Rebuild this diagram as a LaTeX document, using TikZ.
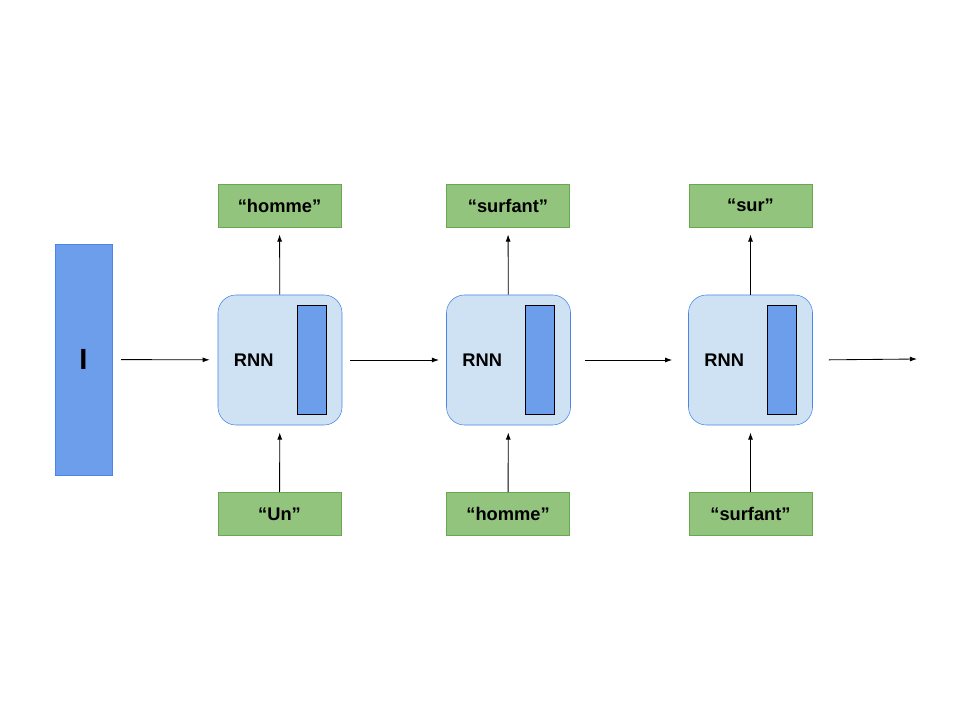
\documentclass[tikz,border=0pt]{standalone}
\usepackage{fontspec}
\setmainfont{Liberation Sans}
\usepackage{tikz}
\usetikzlibrary{arrows.meta,positioning,calc}
\definecolor{BarBlue}{HTML}{6D9EEB}
\definecolor{EdgeBlue}{HTML}{4A86E8}
\definecolor{CellBG}{HTML}{CFE2F3}
\definecolor{WordGreen}{HTML}{93C47D}
\definecolor{WordEdge}{HTML}{6AA84F}

\begin{document}
\begin{tikzpicture}[x=0.025cm,y=-0.025cm,
  cell/.style={draw=EdgeBlue,fill=CellBG,rounded corners=0.45cm,minimum width=3.1cm,minimum height=3.25cm},
  state/.style={draw=black,fill=BarBlue,minimum width=0.725cm,minimum height=2.725cm,inner sep=0pt},
  word/.style={draw=WordEdge,fill=WordGreen,minimum width=3.075cm,minimum height=1.075cm,font=\bfseries\fontsize{13}{15}\selectfont},
  link/.style={-{Latex[length=5pt,width=3.5pt]},line width=0.6pt}]
  \useasboundingbox (0,0) rectangle (960,720);
  % image vector
  \node[draw=EdgeBlue,fill=BarBlue,minimum width=1.425cm,minimum height=5.775cm,font=\bfseries\huge] (img) at (83.5,359.5) {I};
  % the three cells
  \node[cell] (rnn1) at (280,360) {};
  \node[cell] (rnn2) at (508.5,360) {};
  \node[cell] (rnn3) at (750.5,360) {};
  \foreach \i in {1,2,3} {
    \node[state,anchor=east] (h\i) at ([xshift=-0.4cm]rnn\i.east) {};
    \node[anchor=west,font=\bfseries\fontsize{13}{15}\selectfont,inner sep=0pt] at ([xshift=0.4cm]rnn\i.west) {RNN};
  }
  % words
  \node[word] (out1) at (279.5,205.5) {“homme”};
  \node[word] (out2) at (508,205.5) {“surfant”};
  \node[word] (out3) at (750.5,205.5) {“sur”};
  \node[word] (in1) at (279.5,514) {“Un”};
  \node[word] (in2) at (508,514) {“homme”};
  \node[word] (in3) at (750.5,514) {“surfant”};
  \coordinate (end) at (917,359);
  % arrows
  \draw[link,shorten <=0.22cm,shorten >=0.2cm] (img) -- (rnn1);
  \draw[link,shorten <=0.2cm,shorten >=0.18cm] (rnn1) -- (rnn2);
  \draw[link,shorten <=0.35cm,shorten >=0.4cm] (rnn2) -- (rnn3);
  \draw[link,shorten <=0.4cm] (rnn3.east) -- (end);
  \foreach \i in {1,2,3} {
    \draw[link,shorten >=0.18cm] (rnn\i) -- (out\i);
    \draw[link,shorten >=0.18cm] (in\i) -- (rnn\i);
  }
\end{tikzpicture}
\end{document}
